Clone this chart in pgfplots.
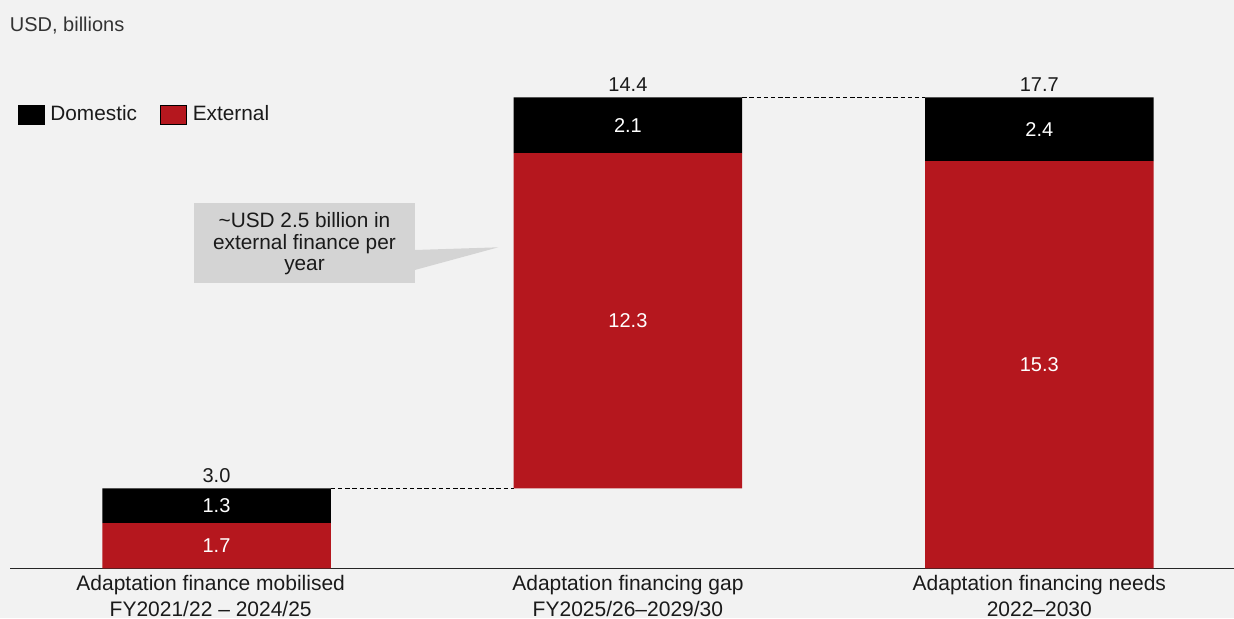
\documentclass[border=0pt]{standalone}
\usepackage{pgfplots}
\pgfplotsset{compat=1.18}
\usepackage{fontspec}
\setmainfont{Liberation Sans}
\definecolor{bg}{HTML}{F2F2F2}
\definecolor{ext}{HTML}{B5171E}
\definecolor{callout}{HTML}{D4D4D4}
\definecolor{txt}{HTML}{1A1A1A}
\pgfplotsset{legsq/.style={legend image code/.code={\fill[##1] (0pt,-4.75pt) rectangle (13pt,4.75pt);}}}
\tikzset{
  lbl/.style={font=\fontsize{10}{12}\selectfont, inner sep=0pt, anchor=center},
  toplbl/.style={font=\fontsize{10}{12}\selectfont, inner sep=0pt, anchor=base, yshift=3pt, text=txt},
}
\begin{document}
\begin{tikzpicture}[x=1pt,y=1pt]
\useasboundingbox (0,0) rectangle (617,309);
\fill[bg] (0,0) rectangle (617,309);
\begin{axis}[
  at={(5pt,24.85pt)}, anchor=south west,
  scale only axis, width=612pt, height=284.15pt,
  xmin=-0.50194, xmax=2.47326, ymin=0, ymax=21.357,
  ybar stacked, bar width=114.25pt,
  axis y line=none, axis x line=bottom,
  x axis line style={-, draw=black!85, line width=0.6pt},
  xtick={0,1,2}, major tick length=0pt, ytick=\empty,
  xticklabels={{Adaptation finance mobilised\hspace*{5.8pt}\\FY2021/22 – 2024/25\hspace*{5.8pt}},{Adaptation financing gap\\FY2025/26–2029/30},{Adaptation financing needs\\2022–2030}},
  xticklabel style={align=center, font=\fontsize{10.5}{13}\selectfont, text=txt, inner sep=0pt, anchor=north, yshift=-3.2pt},
  clip=false,
  legend columns=2, legend cell align=left,
  legend style={at={(rel axis cs:0.0062,0.7984)}, anchor=west, draw=none, fill=none, inner sep=0pt, outer sep=0pt, font=\fontsize{10.4}{12}\selectfont, text=txt, /tikz/every odd column/.append style={column sep=1pt}, /tikz/every even column/.append style={column sep=9.5pt}},
]
\addlegendimage{legsq, fill=black}\addlegendentry{Domestic}
\addlegendimage{legsq, fill=ext}\addlegendentry{External}
% invisible base for the floating gap bar
\addplot[draw=none, fill=none, forget plot] coordinates {(0,0) (1,3.0) (2,0)};
% External
\addplot[draw=none, fill=ext, forget plot] coordinates {(0,1.7) (1,12.6) (2,15.3)};
% Domestic
\addplot[draw=none, fill=black, forget plot] coordinates {(0,1.3) (1,2.1) (2,2.4)};
% segment label positions
\coordinate (a1) at (axis cs:0,0.85);
\coordinate (a2) at (axis cs:0,2.35);
\coordinate (b1) at (axis cs:1,9.3);
\coordinate (b2) at (axis cs:1,16.65);
\coordinate (c1) at (axis cs:2,7.65);
\coordinate (c2) at (axis cs:2,16.5);
% totals
\node[toplbl] at (axis cs:0,3.0) {3.0};
\node[toplbl] at (axis cs:1,17.7) {14.4};
\node[toplbl] at (axis cs:2,17.7) {17.7};
% connectors
\draw[black, line width=0.75pt, dash pattern=on 2.2pt off 1.4pt] (axis cs:0.2777,3.0) -- (axis cs:0.7223,3.0);
\draw[black, line width=0.75pt, dash pattern=on 2.2pt off 1.4pt] (axis cs:1.2777,17.7) -- (axis cs:1.7223,17.7);
\end{axis}
\node[lbl, text=white] at (a1) {1.7};
\node[lbl, text=white] at (a2) {1.3};
\node[lbl, text=white] at (b1) {12.3};
\node[lbl, text=white] at (b2) {2.1};
\node[lbl, text=white] at (c1) {15.3};
\node[lbl, text=white] at (c2) {2.4};
\node[anchor=base west, inner sep=0pt, font=\fontsize{10}{12}\selectfont, text=black!80] at (4.75,293.15) {USD, billions};
\fill[callout] (97,207.5) rectangle (207.5,167.5);
\fill[callout] (207.4,184) -- (249.15,185.35) -- (207.4,174) -- cycle;
\node[align=center, font=\fontsize{10.4}{10.8}\selectfont, text=txt, inner sep=0pt] at (152.25,187.05) {\textasciitilde USD 2.5 billion in\\external finance per\\year};
\end{tikzpicture}
\end{document}
